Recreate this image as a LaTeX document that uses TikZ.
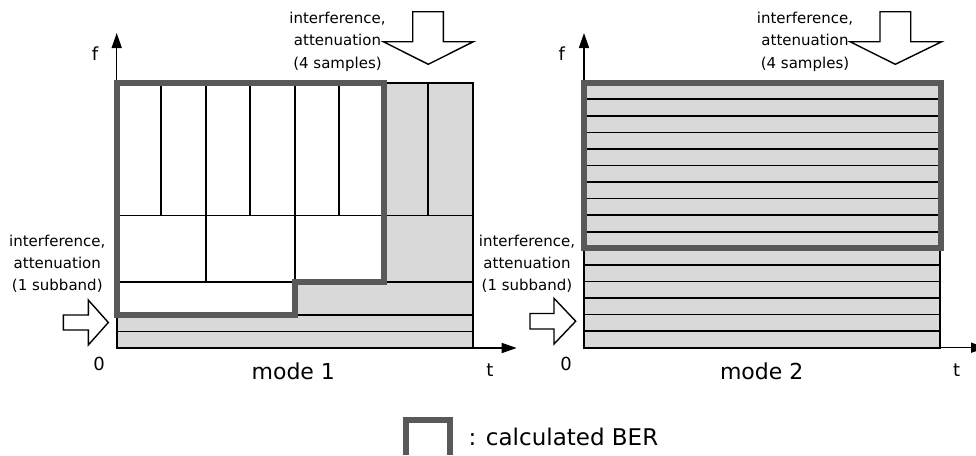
\documentclass[tikz,border=0pt]{standalone}
\usepackage{fontspec}
\setmainfont{DejaVu Sans}
\usetikzlibrary{arrows.meta}
\definecolor{cellgray}{HTML}{D9D9D9}
\definecolor{bergray}{HTML}{595959}
\begin{document}
\begin{tikzpicture}[x=1pt,y=-1pt,
  gridline/.style={line width=1.6pt, draw=black},
  ber/.style={line width=6pt, draw=bergray, line join=miter},
  blockarrow/.style={draw=black, line width=1.4pt, fill=white, line join=miter},
  axisline/.style={line width=1.5pt, draw=black, -{Triangle[length=15pt,width=10pt]}},
  lbl/.style={font=\fontsize{15}{18}\selectfont, anchor=base, inner sep=0pt},
  axlbl/.style={font=\fontsize{18}{20}\selectfont, anchor=base, inner sep=0pt},
  modelbl/.style={font=\fontsize{22}{24}\selectfont, anchor=base, inner sep=0pt}]
\useasboundingbox (0,0) rectangle (976,455);

% ---------- mode 1 grid ----------
\fill[cellgray] (116.7,82.7) rectangle (472.7,348);
\fill[white] (116.7,82.7) -- (383.7,82.7) -- (383.7,281.7) -- (295.2,281.7) -- (295.2,314.8) -- (116.7,314.8) -- cycle;
\foreach \y in {331.4,314.8,281.7,215.4}
  \draw[gridline] (116.7,\y) -- (472.7,\y);
\foreach \i in {1,...,7}
  \draw[gridline] ({116.7+44.5*\i},82.7) -- ({116.7+44.5*\i},215.4);
\foreach \i in {1,2,3}
  \draw[gridline] ({116.7+89*\i},215.4) -- ({116.7+89*\i},281.7);
\draw[gridline] (295.2,281.7) -- (295.2,314.8);
\draw[gridline] (116.7,82.7) rectangle (472.7,348);

% ---------- mode 2 grid ----------
\fill[cellgray] (584,82.7) rectangle (940,347.7);
\foreach \i in {1,...,15}
  \draw[gridline] (584,{82.7+16.56*\i}) -- (940,{82.7+16.56*\i});
\draw[gridline] (584,82.7) rectangle (940,347.7);

% ---------- axes ----------
\coordinate (O1) at (116.7,348);
\coordinate (F1) at (116.7,33);
\coordinate (T1) at (516.7,348);
\coordinate (O2) at (584,347.7);
\coordinate (F2) at (584,33);
\coordinate (T2) at (986,347.7);
\draw[axisline] (O1) -- (F1);
\draw[axisline] (O1) -- (T1);
\draw[axisline] (O2) -- (F2);
\draw[axisline] (O2) -- (T2);

% ---------- BER outlines ----------
\draw[ber] (116.7,82.7) -- (383.7,82.7) -- (383.7,281.7) -- (295.2,281.7) -- (295.2,314.8) -- (116.7,314.8) -- cycle;
\draw[ber] (584,82.7) rectangle (940.5,248.3);

% ---------- block arrows ----------
\draw[blockarrow] (412.7,11.7) -- (443.3,11.7) -- (443.3,41.7) -- (473.3,41.7) -- (428.3,64.3) -- (383.3,41.7) -- (412.7,41.7) -- cycle;
\draw[blockarrow] (880,11.7) -- (910.7,11.7) -- (910.7,41.7) -- (941.7,41.7) -- (895.3,64.3) -- (850,41.7) -- (880,41.7) -- cycle;
\draw[blockarrow] (63.3,315) -- (88.3,315) -- (88.3,300) -- (108.3,322.5) -- (88.3,345) -- (88.3,330) -- (63.3,330) -- cycle;
\draw[blockarrow] (530,313.5) -- (554,313.5) -- (554,298.3) -- (575.7,321.2) -- (554,344) -- (554,329) -- (530,329) -- cycle;

% ---------- labels ----------
\node[lbl] (a1) at (337.5,23.3) {interference,};
\node[lbl] (a2) at (337.5,45.7) {attenuation};
\node[lbl] (a3) at (337.5,68) {(4 samples)};
\node[lbl] (b1) at (805,23.3) {interference,};
\node[lbl] (b2) at (805,45.7) {attenuation};
\node[lbl] (b3) at (805,68) {(4 samples)};
\node[lbl] (c1) at (57.3,246.7) {interference,};
\node[lbl] (c2) at (57.3,268.8) {attenuation};
\node[lbl] (c3) at (57.3,290.9) {(1 subband)};
\node[lbl] (d1) at (527,246.7) {interference,};
\node[lbl] (d2) at (527,268.8) {attenuation};
\node[lbl] (d3) at (527,290.9) {(1 subband)};

\node[axlbl] (f1) at (95,60) {f};
\node[axlbl] (f2) at (561.7,60) {f};
\node[axlbl] (z1) at (99,370) {0};
\node[axlbl] (z2) at (566,370) {0};
\node[axlbl] (t1) at (490,376.7) {t};
\node[axlbl] (t2) at (956.7,376.7) {t};
\node[modelbl] (m1) at (293.3,379) {mode 1};
\node[modelbl] (m2) at (761.7,379) {mode 2};

% ---------- legend ----------
\draw[ber] (406.3,455) -- (406.3,420.3) -- (450.3,420.3) -- (450.3,455);
\node[anchor=base west, font=\fontsize{23}{25}\selectfont, inner sep=0pt] (leg) at (468.3,445.7) {: calculated BER};
\end{tikzpicture}
\end{document}
